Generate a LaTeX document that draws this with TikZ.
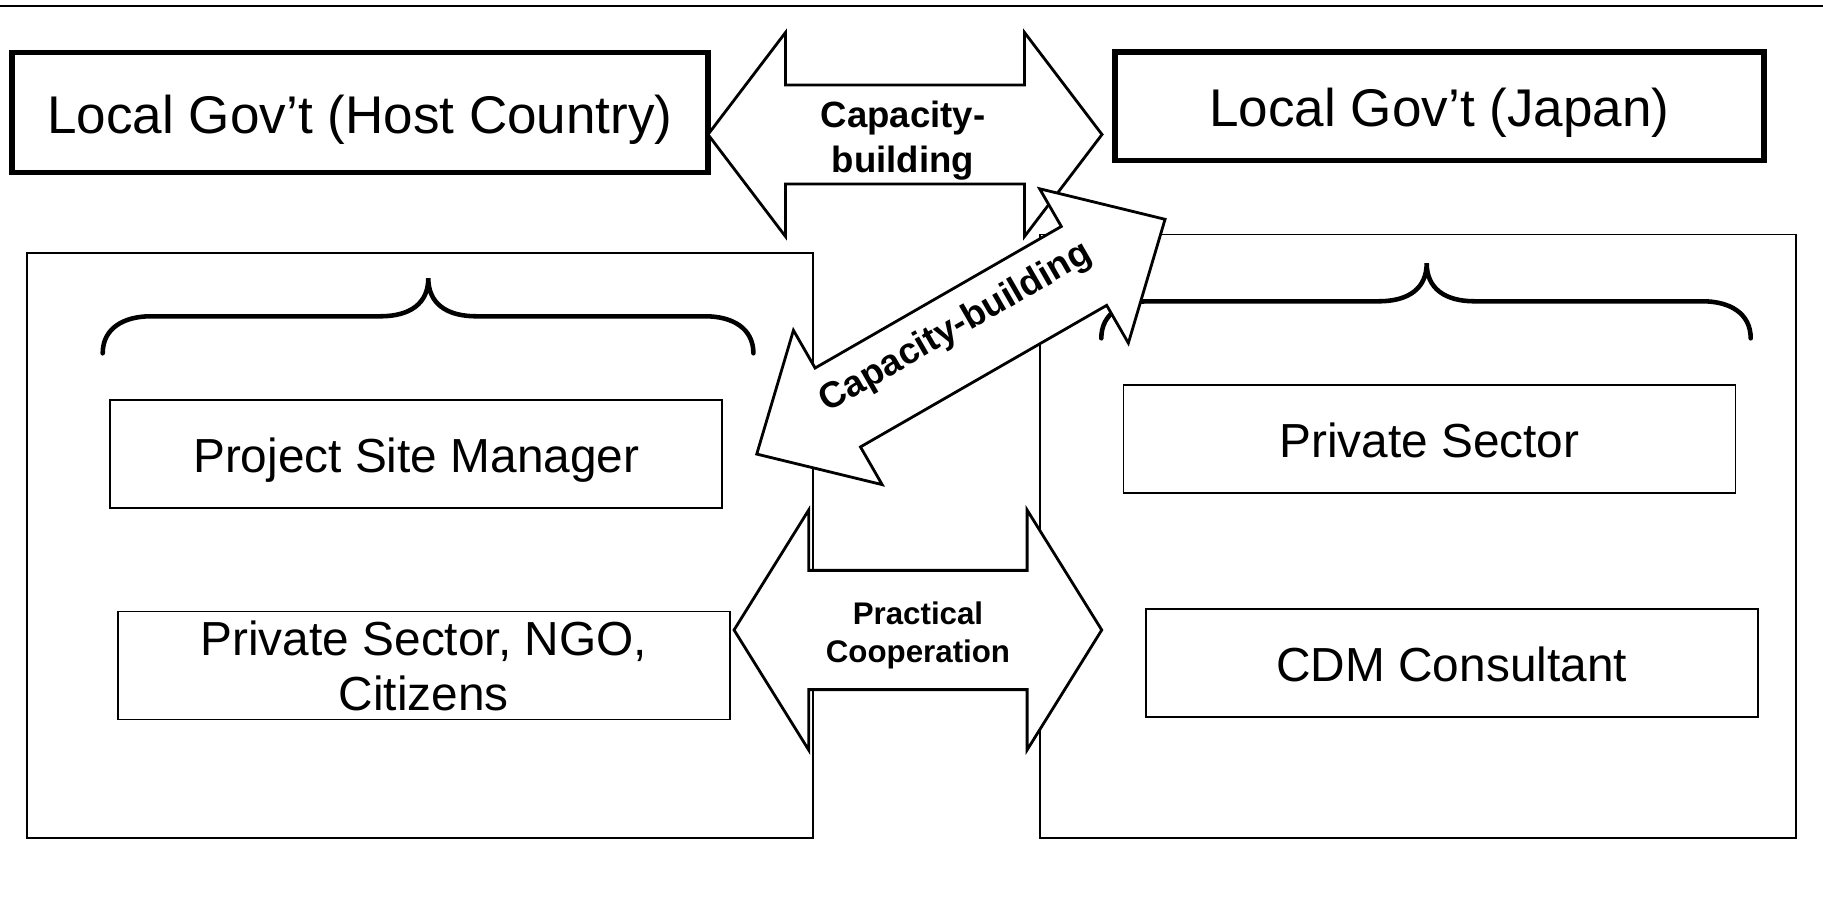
\documentclass[tikz,border=0pt]{standalone}
\usepackage{fontspec}
\setmainfont{Liberation Sans}
\usetikzlibrary{positioning}

\begin{document}
\begin{tikzpicture}[
    govbox/.style={rectangle, draw, line width=1.55pt, inner sep=0pt, text height=15pt, text depth=3.2pt, font=\fontsize{15.1}{18}\selectfont},
    actor/.style={rectangle, draw, line width=0.5pt, inner sep=0pt, minimum width=6.12cm, minimum height=1.08cm, align=center, font=\fontsize{13.6}{15.65}\selectfont},
    oneline/.style={text height=13.6pt, text depth=2.9pt},
    group/.style={rectangle, draw, line width=0.5pt, inner sep=0pt},
    brace/.style={line width=1.3pt, line cap=round},
    fatarrow/.style={draw, fill=white, line width=0.8pt},
    arrowtext/.style={align=center, font=\bfseries\fontsize{10.4}{12.8}\selectfont}
]
\useasboundingbox (0,0) rectangle (18.23,9.09);

% Top rule
\draw[line width=0.7pt] (0,9.03) -- (18.23,9.03);

% Two sides
\node[group, minimum width=7.866cm, minimum height=5.85cm] (hostside) at (4.2, 3.632) {};
\node[group, minimum width=7.56cm, minimum height=6.038cm] (japanside) at (14.18, 3.726) {};

% Actors on each side
\node[actor, oneline] (sitemgr) at (4.163, 4.552) {Project Site Manager};
\node[actor] (localactors) at (4.237, 2.434) {Private Sector, NGO,\\Citizens};
\node[actor, oneline] (privsector) at (14.294, 4.701) {Private Sector};
\node[actor, oneline] (cdmcons) at (14.517, 2.458) {CDM Consultant};

% Braces over the actors
\foreach \xl/\xm/\xr/\yb in {1.027/4.283/7.534/5.557, 11.013/14.267/17.507/5.707} {
    \draw[brace] (\xl,\yb) .. controls +(0,0.25) and +(-0.27,0) .. (\xl+0.48,\yb+0.37)
        -- (\xm-0.48,\yb+0.37) .. controls +(0.3,0) and +(0,-0.25) .. (\xm,\yb+0.75)
        .. controls +(0,-0.25) and +(-0.3,0) .. (\xm+0.48,\yb+0.37)
        -- (\xr-0.48,\yb+0.37) .. controls +(0.27,0) and +(0,0.25) .. (\xr,\yb);
}

% Local governments
\node[govbox, minimum width=6.96cm, minimum height=1.203cm] (hostgov) at (3.60, 7.964) {Local Gov’t (Host Country)};
\node[govbox, minimum width=6.49cm, minimum height=1.085cm] (japangov) at (14.395, 8.028) {Local Gov’t (Japan)};

% Block arrows (the diagonal one last, on top)
\foreach \cx/\cy/\ang/\tipx/\basex/\shafty/\heady in {9.05/7.745/0/1.97/1.195/0.495/1.02, 9.179/2.79/0/1.8385/1.092/0.5965/1.2, 9.609/5.723/29.9/2.355/1.42/0.455/0.89} {
    \draw[fatarrow, shift={(\cx,\cy)}, rotate=\ang] (-\tipx,0) -- (-\basex,\heady) -- (-\basex,\shafty)
        -- (\basex,\shafty) -- (\basex,\heady) -- (\tipx,0) -- (\basex,-\heady) -- (\basex,-\shafty)
        -- (-\basex,-\shafty) -- (-\basex,-\heady) -- cycle;
}

% Arrow labels
\node[arrowtext] (capbuild) at (9.03, 7.68) {Capacity-\\building};
\node[arrowtext, font=\bfseries\fontsize{8.9}{10.8}\selectfont] (praccoop) at (9.18, 2.74) {Practical\\Cooperation};
\node[arrowtext, rotate=29.9] (diagcap) at (9.56, 5.81) {Capacity-building};

\end{tikzpicture}
\end{document}
